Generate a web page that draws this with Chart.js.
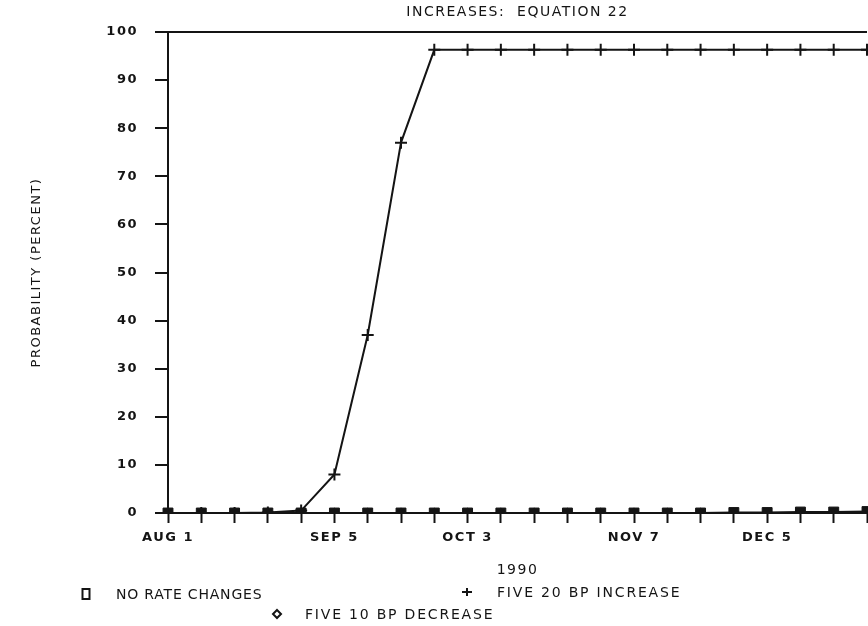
<!DOCTYPE html>
<html>
<head>
<meta charset="utf-8">
<title>Increases: Equation 22</title>
<script src="https://cdn.jsdelivr.net/npm/chart.js@4.4.0/dist/chart.umd.min.js"></script>
<style>
  html, body { margin: 0; padding: 0; background: #fff; }
  #contenedor { width: 868px; height: 626px; }
</style>
</head>
<body>
<div id="contenedor"><canvas id="grafico" width="868" height="626"></canvas></div>
<script>
// --- Datos: una observación por semana, de AUG 1 a DEC 26 (1990) ---
const semanas = ['AUG 1', 'AUG 8', 'AUG 15', 'AUG 22', 'AUG 29', 'SEP 5', 'SEP 12', 'SEP 19',
  'SEP 26', 'OCT 3', 'OCT 10', 'OCT 17', 'OCT 24', 'OCT 31', 'NOV 7', 'NOV 14', 'NOV 21',
  'NOV 28', 'DEC 5', 'DEC 12', 'DEC 19', 'DEC 26'];
const semanasRotuladas = ['AUG 1', 'SEP 5', 'OCT 3', 'NOV 7', 'DEC 5'];
const marcasY = [0, 10, 20, 30, 40, 50, 60, 70, 80, 90, 100];

const sinCambios = [0, 0, 0, 0, 0, 0, 0, 0, 0, 0, 0, 0, 0, 0, 0, 0, 0, 0.1, 0.1, 0.2, 0.2, 0.3];
const subida20 = [0, 0, 0, 0.1, 0.5, 8, 37, 77, 96.3, 96.3, 96.3, 96.3, 96.3, 96.3, 96.3, 96.3,
  96.3, 96.3, 96.3, 96.3, 96.3, 96.3];
const bajada10 = [0, 0, 0, 0, 0, 0, 0, 0, 0, 0, 0, 0, 0, 0, 0, 0, 0, 0, 0, 0, 0, 0];

const NEGRO = '#141414';
const FUENTE = 'DejaVu Sans';

document.addEventListener('DOMContentLoaded', function () {
  const ctx = document.getElementById('grafico').getContext('2d');

  // --- Leyenda dibujada a mano: dos filas, como en el trazador original ---
  const posLeyenda = [
    { serie: 0, x: 86, y: 594, textoX: 116, espaciado: '0.8px' },
    { serie: 1, x: 467, y: 592, textoX: 497, espaciado: '1.8px' },
    { serie: 2, x: 277, y: 614, textoX: 305, espaciado: '1.8px' }
  ];

  function dibujarMarca(c, estilo, x, y) {
    c.beginPath();
    if (estilo === 'rect') {
      c.rect(x - 3.5, y - 5, 7, 10);
    } else if (estilo === 'cross') {
      c.moveTo(x - 5, y); c.lineTo(x + 5, y);
      c.moveTo(x, y - 4); c.lineTo(x, y + 4);
    } else {
      c.moveTo(x, y - 4); c.lineTo(x + 4, y); c.lineTo(x, y + 4); c.lineTo(x - 4, y); c.closePath();
    }
    c.stroke();
  }

  // espaciado de letras del trazador para todos los textos
  const espaciadoPlugin = {
    id: 'espaciadoPlugin',
    beforeDraw(chart) { chart.ctx.letterSpacing = '1.5px'; }
  };

  const leyendaPlugin = {
    id: 'leyendaPlugin',
    afterDraw(chart) {
      const c = chart.ctx;
      c.save();
      c.strokeStyle = NEGRO;
      c.fillStyle = NEGRO;
      c.lineWidth = 2;
      c.font = `14px "${FUENTE}"`;
      c.textBaseline = 'middle';
      c.textAlign = 'left';
      posLeyenda.forEach(item => {
        const ds = chart.data.datasets[item.serie];
        dibujarMarca(c, ds.pointStyle, item.x, item.y);
        c.letterSpacing = item.espaciado;
        c.fillText(ds.label, item.textoX, item.y + 1);
      });
      c.restore();
    }
  };

  new Chart(ctx, {
    type: 'line',
    data: {
      labels: semanas,
      datasets: [
        {
          label: 'NO RATE CHANGES',
          data: sinCambios,
          borderColor: NEGRO,
          backgroundColor: NEGRO,
          borderWidth: 2,
          pointStyle: 'rect',
          pointRadius: 7,
          pointBorderWidth: 1,
          tension: 0
        },
        {
          label: 'FIVE 20 BP INCREASE',
          data: subida20,
          borderColor: NEGRO,
          backgroundColor: NEGRO,
          borderWidth: 2,
          pointStyle: 'cross',
          pointRadius: 6,
          pointBorderWidth: 2,
          tension: 0
        },
        {
          label: 'FIVE 10 BP DECREASE',
          data: bajada10,
          borderColor: NEGRO,
          backgroundColor: '#fff',
          borderWidth: 2,
          pointStyle: 'rectRot',
          pointRadius: 4,
          pointBorderWidth: 2,
          tension: 0
        }
      ]
    },
    options: {
      responsive: false,
      animation: false,
      layout: { autoPadding: false, padding: { right: 1 } },
      plugins: {
        legend: { display: false },
        tooltip: { enabled: false },
        title: {
          display: true,
          fullSize: false,
          text: 'INCREASES:  EQUATION 22',
          color: NEGRO,
          font: { family: FUENTE, size: 14, weight: 'normal' },
          padding: { top: 4, bottom: 11.2 }
        }
      },
      scales: {
        x: {
          grid: { drawOnChartArea: false, tickLength: 10, tickColor: NEGRO, tickWidth: 2 },
          border: { color: NEGRO, width: 2 },
          ticks: {
            autoSkip: false,
            maxRotation: 0,
            padding: 7,
            color: NEGRO,
            font: { family: FUENTE, size: 13, weight: 'bold' },
            callback: function (valor) {
              const etiqueta = this.getLabelForValue(valor);
              return semanasRotuladas.includes(etiqueta) ? etiqueta : '';
            }
          },
          title: {
            display: true,
            text: '1990',
            color: NEGRO,
            font: { family: FUENTE, size: 14, weight: 'normal' },
            padding: { top: 0, bottom: 47.6 }
          },
          afterFit: escala => {
            escala.height = 113;
            escala.paddingRight = 0;
          }
        },
        y: {
          min: 0,
          max: 100,
          afterBuildTicks: escala => { escala.ticks = marcasY.map(v => ({ value: v })); },
          ticks: {
            padding: 17,
            color: NEGRO,
            font: { family: FUENTE, size: 13, weight: 'bold' }
          },
          grid: {
            // solo la línea de 100 cruza el área del gráfico (marco superior)
            color: c => (c.tick && c.tick.value === 100 ? NEGRO : 'rgba(0,0,0,0)'),
            lineWidth: 2,
            tickColor: NEGRO,
            tickLength: 13,
            tickWidth: 2
          },
          border: { color: NEGRO, width: 2 },
          title: {
            display: true,
            text: 'PROBABILITY (PERCENT)',
            color: NEGRO,
            font: { family: FUENTE, size: 13, weight: 'normal' },
            padding: { top: 29, bottom: 0 }
          },
          afterFit: escala => { escala.width = 168; }
        }
      }
    },
    plugins: [espaciadoPlugin, leyendaPlugin]
  });
});
</script>
</body>
</html>
